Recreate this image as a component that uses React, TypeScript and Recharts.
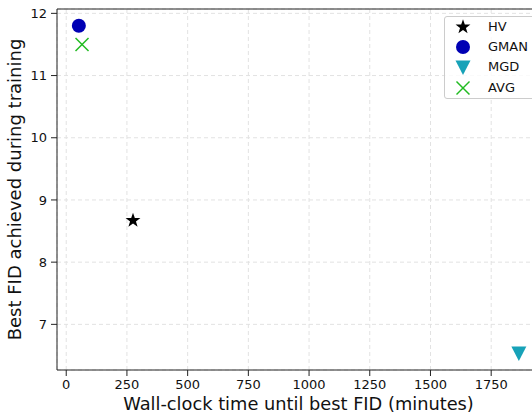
import { ScatterChart, Scatter, XAxis, YAxis, CartesianGrid, ReferenceLine } from 'recharts';

// methods, in legend order
const methods = ['HV', 'GMAN', 'MGD', 'AVG'];
const wallClockMinutes = [275, 52, 1864, 65];
const bestFid = [8.67, 11.8, 6.54, 11.5];

const xTicks = [0, 250, 500, 750, 1000, 1250, 1500, 1750];
const yTicks = [7, 8, 9, 10, 11, 12];

const markerKinds: Record<string, string> = {
    HV: 'star',
    GMAN: 'circle',
    MGD: 'triangleDown',
    AVG: 'x'
};
const markerColors: Record<string, string> = {
    HV: '#000000',
    GMAN: '#0000b4',
    MGD: '#17a2b8',
    AVG: '#22bb22'
};

const X_DOMAIN = [-38, 1984];
const Y_DOMAIN = [6.266, 12.07];
const FONT = '"DejaVu Sans", sans-serif';

function Marker({ kind, cx, cy, color }: { kind: string; cx: number; cy: number; color: string }) {
    if (kind === 'circle') {
        return <circle cx={cx} cy={cy} r={7} fill={color} />;
    }
    if (kind === 'triangleDown') {
        const pts = `${cx - 7.5},${cy - 6.5} ${cx + 7.5},${cy - 6.5} ${cx},${cy + 8}`;
        return <polygon points={pts} fill={color} />;
    }
    if (kind === 'x') {
        const h = 6.5;
        return (
            <g stroke={color} strokeWidth={1.5}>
                <line x1={cx - h} y1={cy - h} x2={cx + h} y2={cy + h} />
                <line x1={cx - h} y1={cy + h} x2={cx + h} y2={cy - h} />
            </g>
        );
    }
    // star
    const pts: string[] = [];
    for (let i = 0; i < 10; i++) {
        const r = i % 2 === 0 ? 7.8 : 3.1;
        const a = -Math.PI / 2 + (i * Math.PI) / 5;
        pts.push(`${cx + r * Math.cos(a)},${cy + r * Math.sin(a)}`);
    }
    return <polygon points={pts.join(' ')} fill={color} />;
}

export default function App() {
    return (
        <div
            style={{
                position: 'absolute',
                left: 0,
                top: 0,
                width: 532,
                height: 415,
                overflow: 'hidden',
                background: '#fff',
                fontFamily: FONT
            }}
        >
            <ScatterChart width={548} height={415} margin={{ top: 9, right: 0, bottom: 0, left: 0 }}>
                <CartesianGrid strokeDasharray="4 3" stroke="#e2e2e2" />
                <XAxis
                    type="number"
                    dataKey="x"
                    domain={X_DOMAIN}
                    ticks={xTicks}
                    allowDataOverflow
                    height={45}
                    tickSize={6}
                    tickMargin={4}
                    stroke="#222"
                    tick={{ fill: '#111', fontSize: 13, fontFamily: FONT }}
                    label={{
                        value: 'Wall-clock time until best FID (minutes)',
                        position: 'insideBottom',
                        offset: 5,
                        dx: -4,
                        style: { fill: '#111', fontSize: 17.8, fontFamily: FONT }
                    }}
                />
                <YAxis
                    type="number"
                    dataKey="y"
                    domain={Y_DOMAIN}
                    ticks={yTicks}
                    allowDataOverflow
                    width={57}
                    tickSize={6}
                    tickMargin={4}
                    stroke="#222"
                    tick={{ fill: '#111', fontSize: 13, fontFamily: FONT }}
                    label={{
                        value: 'Best FID achieved during training',
                        angle: -90,
                        position: 'insideLeft',
                        offset: 15,
                        style: { fill: '#111', fontSize: 18, fontFamily: FONT, textAnchor: 'middle' }
                    }}
                />
                <ReferenceLine y={Y_DOMAIN[1]} stroke="#222" ifOverflow="extendDomain" />
                {methods.map((m, i) => (
                    <Scatter
                        key={m}
                        name={m}
                        data={[{ x: wallClockMinutes[i], y: bestFid[i] }]}
                        isAnimationActive={false}
                        shape={(p: any) => (
                            <Marker kind={markerKinds[m]} cx={p.cx} cy={p.cy} color={markerColors[m]} />
                        )}
                    />
                ))}
            </ScatterChart>
            <div
                style={{
                    position: 'absolute',
                    left: 444,
                    top: 16,
                    width: 100,
                    height: 81,
                    border: '1px solid #ccc',
                    borderRadius: 3,
                    background: 'rgba(255,255,255,0.8)'
                }}
            >
                {methods.map((m, i) => (
                    <div
                        key={m}
                        style={{
                            position: 'absolute',
                            left: 0,
                            top: i * 20 + (i === 3 ? 0.6 : 0),
                            height: 20,
                            display: 'flex',
                            alignItems: 'center'
                        }}
                    >
                        <svg width={36} height={20} style={{ display: 'block' }}>
                            <Marker kind={markerKinds[m]} cx={18} cy={10} color={markerColors[m]} />
                        </svg>
                        <span style={{ marginLeft: 7, fontSize: 13, color: '#111', lineHeight: '20px' }}>{m}</span>
                    </div>
                ))}
            </div>
        </div>
    );
}
